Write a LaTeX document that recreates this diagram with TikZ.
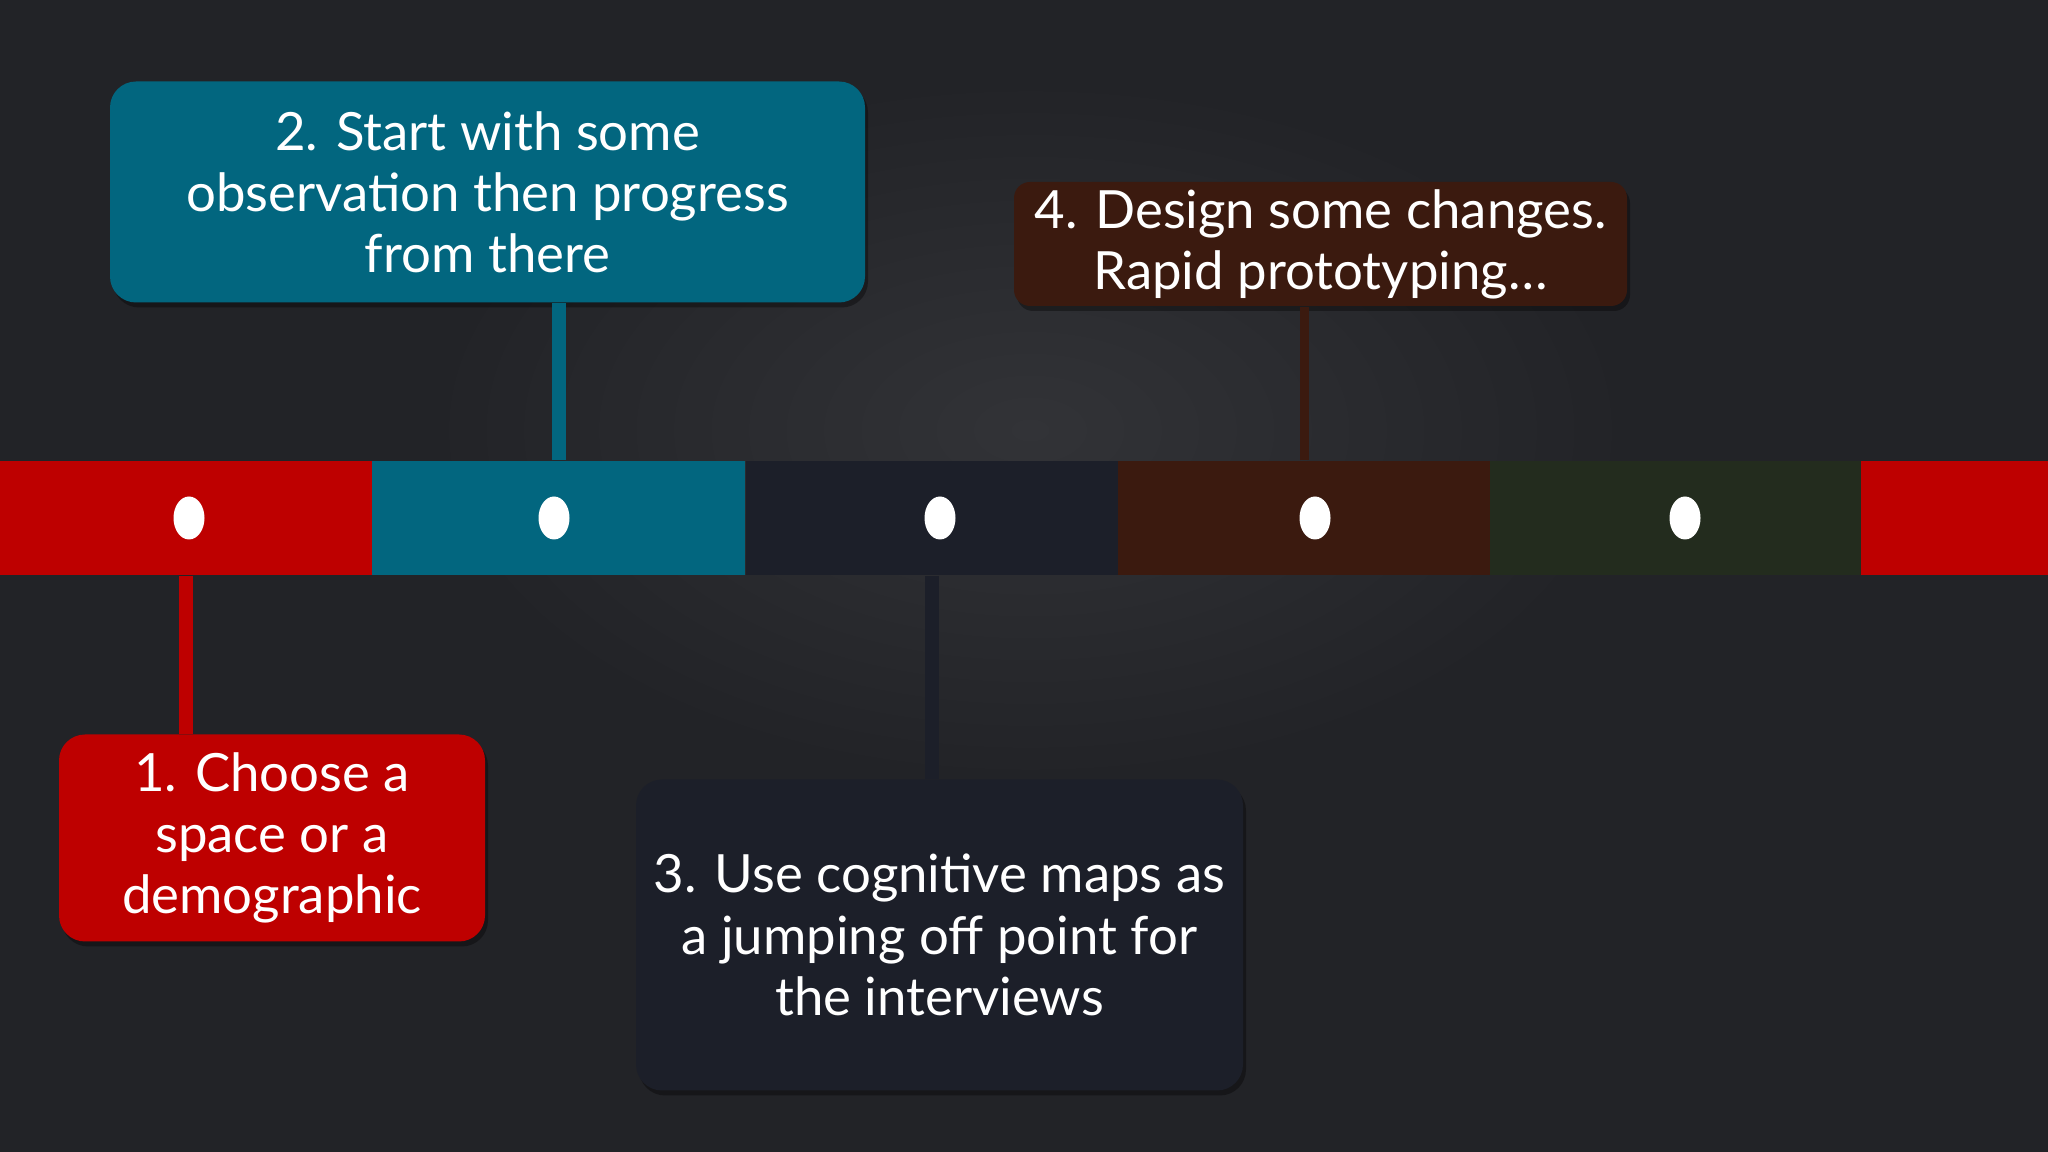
\documentclass[tikz,border=0pt]{standalone}
\usepackage{fontspec}
\setmainfont{Lato}
\usetikzlibrary{shapes.geometric,shadows}
\definecolor{bgdark}{HTML}{222327}
\definecolor{bgglow}{HTML}{323337}
\definecolor{stepred}{HTML}{BE0000}
\definecolor{stepteal}{HTML}{02667F}
\definecolor{stepnavy}{HTML}{1C1F29}
\definecolor{stepbrown}{HTML}{3B1A0F}
\definecolor{stepgreen}{HTML}{232C1E}
\tikzstyle{segment} = [rectangle, inner sep=0pt, minimum width=37.3mm, minimum height=11.4mm]
\tikzstyle{dot} = [ellipse, fill=white, inner sep=0pt, minimum width=3.1mm, minimum height=4.3mm]
\tikzstyle{stepbox} = [rectangle, rounded corners=2.6mm, inner sep=0pt, text=white, align=center, font=\fontsize{15}{17.4}\selectfont, drop shadow={fill=black, opacity=0.35, shadow xshift=0.3mm, shadow yshift=-0.5mm}]
\tikzstyle{stem} = [line width=1.4mm]

\begin{document}
\begin{tikzpicture}[x=0.1mm, y=-0.1mm]
 % background
    \fill[bgdark] (0,0) rectangle (2048,1152);
    \shade[inner color=bgglow, outer color=bgdark] (1030,430) ellipse (60mm and 35mm);
    \useasboundingbox (0,0) rectangle (2048,1152);
 % timeline
    \node [segment, fill=stepred, name=seg1] at (186,518) {};
    \node [segment, fill=stepteal, name=seg2] at (558.5,518) {};
    \node [segment, fill=stepnavy, name=seg3] at (932,518) {};
    \node [segment, fill=stepbrown, name=seg4] at (1304.5,518) {};
    \node [segment, fill=stepgreen, name=seg5] at (1676,518) {};
    \node [segment, fill=stepred, minimum width=18.8mm, name=seg6] at (1955,518) {};
    \node [dot, name=dot1] at (189,518) {};
    \node [dot, name=dot2] at (554,518) {};
    \node [dot, name=dot3] at (940,518) {};
    \node [dot, name=dot4] at (1315,518) {};
    \node [dot, name=dot5] at (1685,518) {};
 % boxes
    \node [stepbox, fill=stepred, minimum width=42.6mm, minimum height=20.7mm, name=box1] at (272,838) {1. Choose a\\space or a\\demographic};
    \node [stepbox, fill=stepteal, minimum width=75.5mm, minimum height=22.1mm, name=box2] at (487.5,192) {2. Start with some\\observation then progress\\from there};
    \node [stepbox, fill=stepnavy, minimum width=60.7mm, minimum height=31.1mm, name=box3] at (939.5,935) {3. Use cognitive maps as\\a jumping off point for\\the interviews};
    \node [stepbox, fill=stepbrown, rounded corners=1.6mm, minimum width=61.3mm, minimum height=12.4mm, name=box4] at (1320.5,244) {4. Design some changes.\\Rapid prototyping…};
 % stems
    \draw [stem, stepred] (seg1.south) -- (seg1.south |- box1.north);
    \draw [stem, stepteal] (seg2.north) -- (seg2.north |- box2.south);
    \draw [stem, stepnavy] (seg3.south) -- (seg3.south |- box3.north);
    \draw [stem, stepbrown, line width=0.9mm] (seg4.north) -- (seg4.north |- box4.south);
\end{tikzpicture}
\end{document}
